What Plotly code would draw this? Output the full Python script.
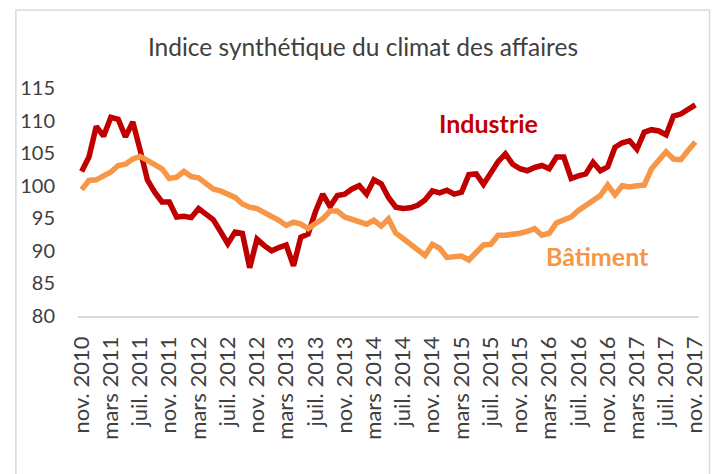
import plotly.graph_objects as go

months_fr = ["janv.", "févr.", "mars", "avr.", "mai", "juin", "juil.", "août", "sept.", "oct.", "nov.", "déc."]

industrie = [102.2, 104.4, 109.1, 107.6, 110.5, 110.2, 107.5, 109.8, 105.5, 100.9,
             99.0, 97.5, 97.5, 95.2, 95.3, 95.1, 96.5, 95.7, 94.8, 93.0,
             91.1, 92.9, 92.7, 87.4, 91.8, 90.8, 90.0, 90.5, 90.9, 87.7,
             92.1, 92.6, 96.0, 98.7, 96.8, 98.5, 98.7, 99.5, 100.0, 98.7,
             100.9, 100.3, 98.2, 96.7, 96.5, 96.6, 97.0, 97.8, 99.2, 98.9,
             99.3, 98.7, 99.0, 101.7, 101.8, 100.2, 102.1, 103.7, 104.9, 103.3,
             102.6, 102.3, 102.8, 103.1, 102.6, 104.4, 104.4, 101.1, 101.5, 101.8,
             103.6, 102.3, 102.9, 105.9, 106.6, 106.9, 105.6, 108.2, 108.6, 108.4,
             107.8, 110.7, 111.0, 111.6, 112.4]

batiment = [99.4, 100.8, 100.9, 101.6, 102.1, 103.1, 103.3, 104.1, 104.5, 103.9,
            103.2, 102.6, 101.1, 101.3, 102.2, 101.4, 101.2, 100.4, 99.5, 99.2,
            98.6, 98.2, 97.2, 96.7, 96.5, 95.9, 95.4, 94.7, 93.9, 94.4,
            94.1, 93.4, 94.2, 94.9, 96.1, 96.1, 95.2, 94.8, 94.4, 94.1,
            94.7, 93.8, 94.9, 92.7, 91.9, 91.1, 90.2, 89.3, 91.0, 90.4,
            89.0, 89.2, 89.2, 88.6, 89.7, 90.9, 91.0, 92.4, 92.4, 92.5,
            92.7, 93.0, 93.4, 92.4, 92.7, 94.3, 94.7, 95.2, 96.2, 97.0,
            97.7, 98.5, 100.1, 98.6, 100.0, 99.8, 100.0, 100.1, 102.6, 103.9,
            105.2, 104.1, 104.0, 105.4, 106.7]

# month labels, starting November 2010
labels = []
for k in range(len(industrie)):
    m = (10 + k) % 12
    y = 2010 + (10 + k) // 12
    labels.append(f"{months_fr[m]} {y}")
idx = list(range(len(industrie)))
tick_idx = idx[::4]
tick_text = [labels[k] for k in tick_idx]

y_ticks = [80, 85, 90, 95, 100, 105, 110, 115]

FONT = "Lato"
GRAY = "#404040"

fig = go.Figure()
fig.add_trace(go.Scatter(x=idx, y=industrie, mode="lines", name="Industrie",
                         line=dict(color="#C00000", width=5.5)))
fig.add_trace(go.Scatter(x=idx, y=batiment, mode="lines", name="Bâtiment",
                         line=dict(color="#F79646", width=5.5)))

fig.update_layout(
    width=711, height=466,
    margin=dict(l=64, r=12, t=80, b=158),
    paper_bgcolor="white", plot_bgcolor="white",
    showlegend=False,
    font=dict(family=FONT, color=GRAY),
    title=dict(text="Indice synthétique du climat des affaires", x=0.4993, xanchor="center",
               y=0.915, yanchor="middle", font=dict(size=24.5, color=GRAY, family=FONT)),
    xaxis=dict(range=[-0.5, 84.5], tickmode="array", tickvals=tick_idx, ticktext=tick_text,
               tickangle=-90, showgrid=False, zeroline=False, showline=True,
               linecolor="#d9d9d9", linewidth=1.5, ticks="", ticklabelstandoff=10,
               tickfont=dict(size=22, color=GRAY, family=FONT)),
    yaxis=dict(range=[80, 115], tickvals=y_ticks, showgrid=False, zeroline=False,
               showline=False, ticks="", ticklabelstandoff=22,
               tickfont=dict(size=20, color=GRAY, family=FONT)),
    shapes=[
        dict(type="rect", xref="paper", yref="paper",
             x0=-0.1, x1=1.0169, y0=-0.71, y1=1.342,
             line=dict(color="#d9d9d9", width=1.5)),
    ],
    annotations=[
        dict(x=55.7, y=109.6, xref="x", yref="y", text="<b>Industrie</b>", showarrow=False,
             font=dict(size=25, color="#C00000", family=FONT)),
        dict(x=70.6, y=89.2, xref="x", yref="y", text="<b>Bâtiment</b>", showarrow=False,
             font=dict(size=25, color="#F79646", family=FONT)),
    ],
)

fig.write_html("out.html")
